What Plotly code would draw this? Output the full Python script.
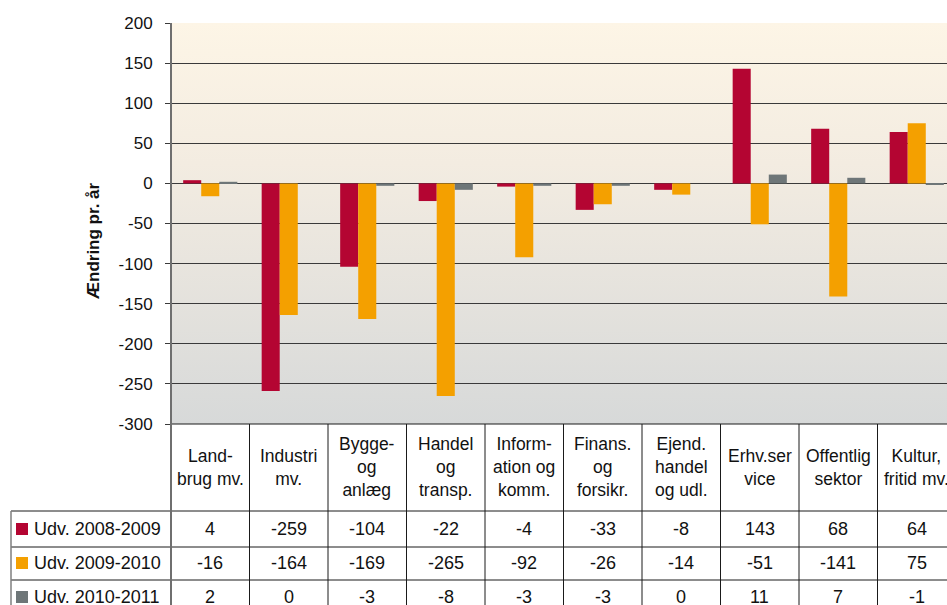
import base64
import plotly.graph_objects as go

# ---- data ----
categories = [
    "Land-<br>brug mv.",
    "Industri<br>mv.",
    "Bygge-<br>og<br>anlæg",
    "Handel<br>og<br>transp.",
    "Inform-<br>ation og<br>komm.",
    "Finans.<br>og<br>forsikr.",
    "Ejend.<br>handel<br>og udl.",
    "Erhv.ser<br>vice",
    "Offentlig<br>sektor",
    "Kultur,<br>fritid mv.",
]
series_names = ["Udv. 2008-2009", "Udv. 2009-2010", "Udv. 2010-2011"]
udv_2008_2009 = [4, -259, -104, -22, -4, -33, -8, 143, 68, 64]
udv_2009_2010 = [-16, -164, -169, -265, -92, -26, -14, -51, -141, 75]
udv_2010_2011 = [2, 0, -3, -8, -3, -3, 0, 11, 7, -1]
series_values = [udv_2008_2009, udv_2009_2010, udv_2010_2011]
colors = ["#B40532", "#F4A000", "#6E7678"]
y_tickvals = [-300, -250, -200, -150, -100, -50, 0, 50, 100, 150, 200]
y_ticktext = [str(v) for v in y_tickvals]

FONT = "Liberation Sans, Arial, sans-serif"
W, H = 947, 605
L, R, T, B = 171, 0, 23, 181
PW = W - L - R
PH = H - T - B


def py(ypx):
    """pixel y -> paper y"""
    return (H - B - ypx) / PH


def px(xpx):
    return (xpx - L) / PW


x_idx = list(range(len(categories)))

fig = go.Figure()
for name, vals, col in zip(series_names, series_values, colors):
    fig.add_trace(go.Bar(x=x_idx, y=vals, name=name, marker=dict(color=col, line=dict(width=0)),
                         showlegend=False))

# gradient background via svg image
svg = (
    '<svg xmlns="http://www.w3.org/2000/svg" width="100" height="100" preserveAspectRatio="none">'
    '<defs><linearGradient id="g" x1="0" y1="0" x2="0" y2="1">'
    '<stop offset="0" stop-color="#FDF5E6"/>'
    '<stop offset="0.35" stop-color="#F3ECE1"/>'
    '<stop offset="1" stop-color="#D7D9D9"/>'
    '</linearGradient></defs>'
    '<rect width="100" height="100" fill="url(#g)"/></svg>'
)
src = "data:image/svg+xml;base64," + base64.b64encode(svg.encode()).decode()

shapes = []
line_dark = dict(color="#1a1a1a", width=1)
# vertical separators in the table
for k in range(1, len(categories) + 1):
    shapes.append(dict(type="line", xref="x", yref="paper", x0=k - 0.5, x1=k - 0.5,
                       y0=0, y1=py(640), line=line_dark))
# horizontal row lines
for ypx in [511, 547, 580]:
    shapes.append(dict(type="line", xref="paper", yref="paper", x0=px(11), x1=1,
                       y0=py(ypx), y1=py(ypx), line=line_dark))
# left border of legend column
shapes.append(dict(type="line", xref="paper", yref="paper", x0=px(11), x1=px(11),
                   y0=py(511), y1=py(640), line=dict(color="#7f7f7f", width=1.5)))
# plot bottom line
shapes.append(dict(type="line", xref="paper", yref="paper", x0=0, x1=1, y0=0, y1=0,
                   line=line_dark))
# y axis line extending through the table
shapes.append(dict(type="line", xref="paper", yref="paper", x0=0, x1=0, y0=1, y1=py(640),
                   line=dict(color="#6f6f6f", width=2)))

annotations = []
# header labels
for i, c in enumerate(categories):
    annotations.append(dict(x=i, y=py(467), xref="x", yref="paper", text=c, showarrow=False,
                            xanchor="center", yanchor="middle",
                            font=dict(family=FONT, size=17.5, color="#111")))
# table rows
row_centers = [529, 563, 597]
for r, (name, vals, col) in enumerate(zip(series_names, series_values, colors)):
    yc = py(row_centers[r])
    shapes.append(dict(type="rect", xref="paper", yref="paper", x0=px(16), x1=px(28),
                       y0=py(row_centers[r] + 6), y1=py(row_centers[r] - 6),
                       fillcolor=col, line=dict(width=0)))
    annotations.append(dict(x=px(32), y=yc, xref="paper", yref="paper", text=name,
                            showarrow=False, xanchor="left", yanchor="middle",
                            font=dict(family=FONT, size=18, color="#111")))
    for i, v in enumerate(vals):
        annotations.append(dict(x=i, y=yc, xref="x", yref="paper", text=str(v),
                                showarrow=False, xanchor="center", yanchor="middle",
                                font=dict(family=FONT, size=18, color="#111")))
# y axis title
annotations.append(dict(x=px(93), y=py(241), xref="paper", yref="paper",
                        text="<b>Ændring pr. år</b>", textangle=-90, showarrow=False,
                        xanchor="center", yanchor="middle",
                        font=dict(family=FONT, size=17, color="#111")))

fig.update_layout(
    width=W, height=H,
    margin=dict(l=L, r=R, t=T, b=B, pad=0),
    paper_bgcolor="white",
    plot_bgcolor="rgba(0,0,0,0)",
    barmode="group", bargap=0.31, bargroupgap=0,
    images=[dict(source=src, xref="paper", yref="paper", x=0, y=1, sizex=1, sizey=1,
                 sizing="stretch", xanchor="left", yanchor="top", layer="below")],
    shapes=shapes,
    annotations=annotations,
    xaxis=dict(range=[-0.5, -0.5 + PW / 78.5], showticklabels=False, showgrid=False,
               zeroline=False, showline=False, ticks="", fixedrange=True),
    yaxis=dict(range=[-300, 200], tickvals=y_tickvals, ticktext=y_ticktext,
               showgrid=True, gridcolor="#3a3a3a",
               gridwidth=1, zeroline=True, zerolinecolor="#3a3a3a", zerolinewidth=1,
               showline=False, ticks="outside", ticklen=5, tickcolor="#3a3a3a",
               ticklabelstandoff=9,
               tickfont=dict(family=FONT, size=17, color="#111")),
    font=dict(family=FONT),
)

fig.write_html(
    "out.html",
    config={"displayModeBar": False},
    post_script="document.body.style.margin='0';document.body.style.overflow='hidden';",
)
